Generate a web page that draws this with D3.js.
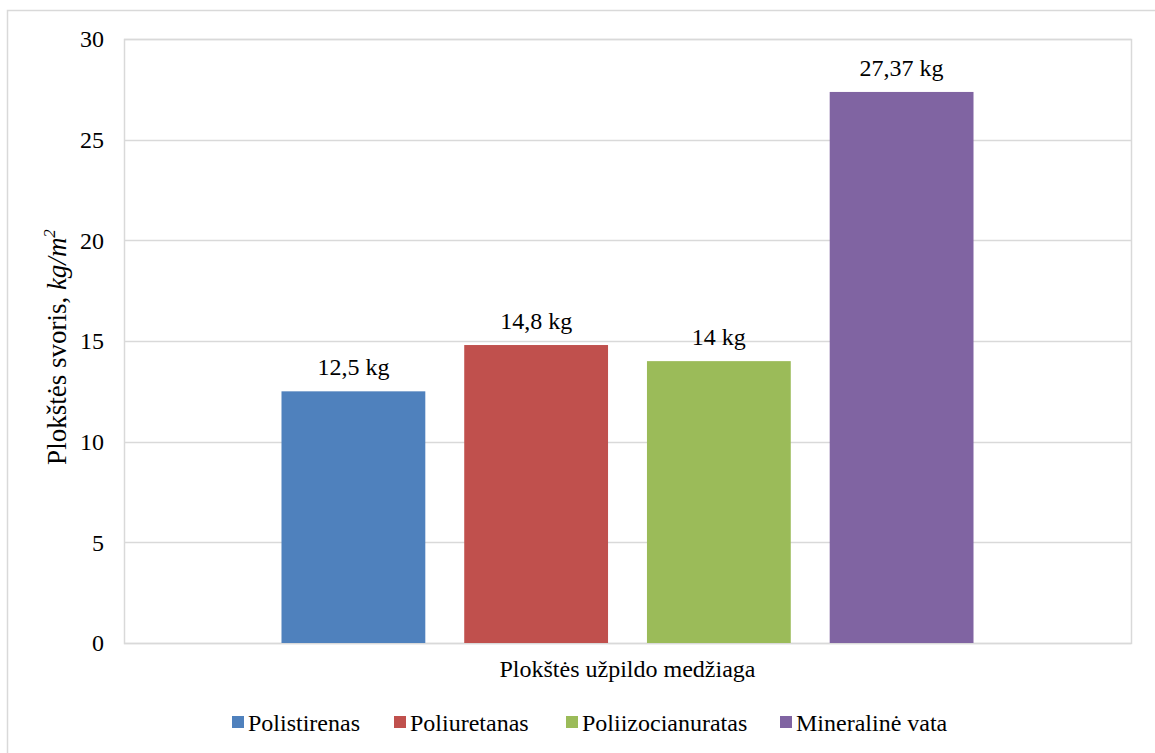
<!DOCTYPE html>
<html>
<head>
<meta charset="utf-8">
<script src="https://cdn.jsdelivr.net/npm/d3@7"></script>
<style>
  html, body { margin: 0; padding: 0; background: #fff; }
  svg { display: block; }
</style>
</head>
<body>
<svg id="chart" width="1155" height="753"></svg>
<script>
// Plate weight by insulation fill material
const materials = ["Polistirenas", "Poliuretanas", "Poliizocianuratas", "Mineralinė vata"];
const weights = [12.5, 14.8, 14, 27.37];
const valueLabels = ["12,5 kg", "14,8 kg", "14 kg", "27,37 kg"];
const colors = ["#4f81bd", "#c0504d", "#9bbb59", "#8064a2"];
const yTicks = [0, 5, 10, 15, 20, 25, 30];
const categoryTitle = "Plokštės užpildo medžiaga";

const svg = d3.select("#chart");
const W = 1155, H = 753;
const plot = { left: 124, top: 39, right: 1131, bottom: 643 };
const gridColor = "#d9d9d9";
const FONT = '"Liberation Serif"';
const fontSize = "24px";

// outer chart frame
svg.append("rect")
  .attr("x", 7.5).attr("y", 10.5)
  .attr("width", W).attr("height", H)
  .attr("fill", "#fff").attr("stroke", gridColor).attr("stroke-width", 1.5);

const y = d3.scaleLinear().domain([0, 30]).range([plot.bottom, plot.top]);

// the four bars sit side by side in one category group, centred in the plot
const cx = (plot.left + plot.right) / 2;
const groupHalf = (plot.right - plot.left) * 0.3436;
const x = d3.scaleBand()
  .domain(materials)
  .range([cx - groupHalf, cx + groupHalf])
  .paddingInner(0.213)
  .paddingOuter(0);

// horizontal gridlines
svg.append("g")
  .selectAll("line")
  .data(yTicks)
  .join("line")
  .attr("x1", plot.left).attr("x2", plot.right)
  .attr("y1", d => Math.round(y(d)) + 0.5).attr("y2", d => Math.round(y(d)) + 0.5)
  .attr("stroke", gridColor).attr("stroke-width", 1.5);

// plot area frame
svg.append("rect")
  .attr("x", plot.left + 0.5).attr("y", plot.top + 0.5)
  .attr("width", plot.right - plot.left).attr("height", plot.bottom - plot.top)
  .attr("fill", "none").attr("stroke", gridColor).attr("stroke-width", 1.5);

// y axis tick labels
const yAxis = d3.axisLeft(y).tickValues(yTicks).tickSize(0).tickPadding(20).tickFormat(d3.format("d"));
const yg = svg.append("g").attr("transform", `translate(${plot.left},0)`).call(yAxis);
yg.select(".domain").remove();
yg.attr("font-family", null).attr("font-size", null);
yg.selectAll("text")
  .style("font-family", FONT)
  .style("font-size", fontSize)
  .attr("fill", "#000");

// bars
svg.append("g")
  .selectAll("rect")
  .data(materials)
  .join("rect")
  .attr("x", d => x(d))
  .attr("width", x.bandwidth())
  .attr("y", (d, i) => y(weights[i]))
  .attr("height", (d, i) => y(0) - y(weights[i]))
  .attr("fill", (d, i) => colors[i]);

// value labels above bars
svg.append("g")
  .selectAll("text")
  .data(materials)
  .join("text")
  .attr("x", d => x(d) + x.bandwidth() / 2)
  .attr("y", (d, i) => y(weights[i]) - 16)
  .attr("text-anchor", "middle")
  .style("font-family", FONT)
  .style("font-size", fontSize)
  .attr("fill", "#000")
  .text((d, i) => valueLabels[i]);

// category axis title
svg.append("text")
  .attr("x", cx).attr("y", 677)
  .attr("text-anchor", "middle")
  .style("font-family", FONT)
  .style("font-size", fontSize)
  .attr("fill", "#000")
  .text(categoryTitle);

// value axis title
const yTitle = svg.append("text")
  .attr("transform", "translate(66,347) rotate(-90)")
  .attr("text-anchor", "middle")
  .style("font-family", FONT)
  .style("font-size", "27px")
  .attr("fill", "#000");
yTitle.append("tspan").text("Plokštės svoris, ");
yTitle.append("tspan").style("font-style", "italic").text("kg/m");
yTitle.append("tspan").style("font-style", "italic").style("font-size", "17px").attr("dy", -11).text("2");

// legend
const legendX = [232, 394, 566, 780];
const legend = svg.append("g")
  .selectAll("g")
  .data(materials)
  .join("g")
  .attr("transform", (d, i) => `translate(${legendX[i]},716)`);
legend.append("rect")
  .attr("width", 12).attr("height", 12)
  .attr("fill", (d, i) => colors[i]);
legend.append("text")
  .attr("x", 16).attr("y", 15)
  .style("font-family", FONT)
  .style("font-size", fontSize)
  .attr("fill", "#000")
  .text(d => d);
</script>
</body>
</html>
